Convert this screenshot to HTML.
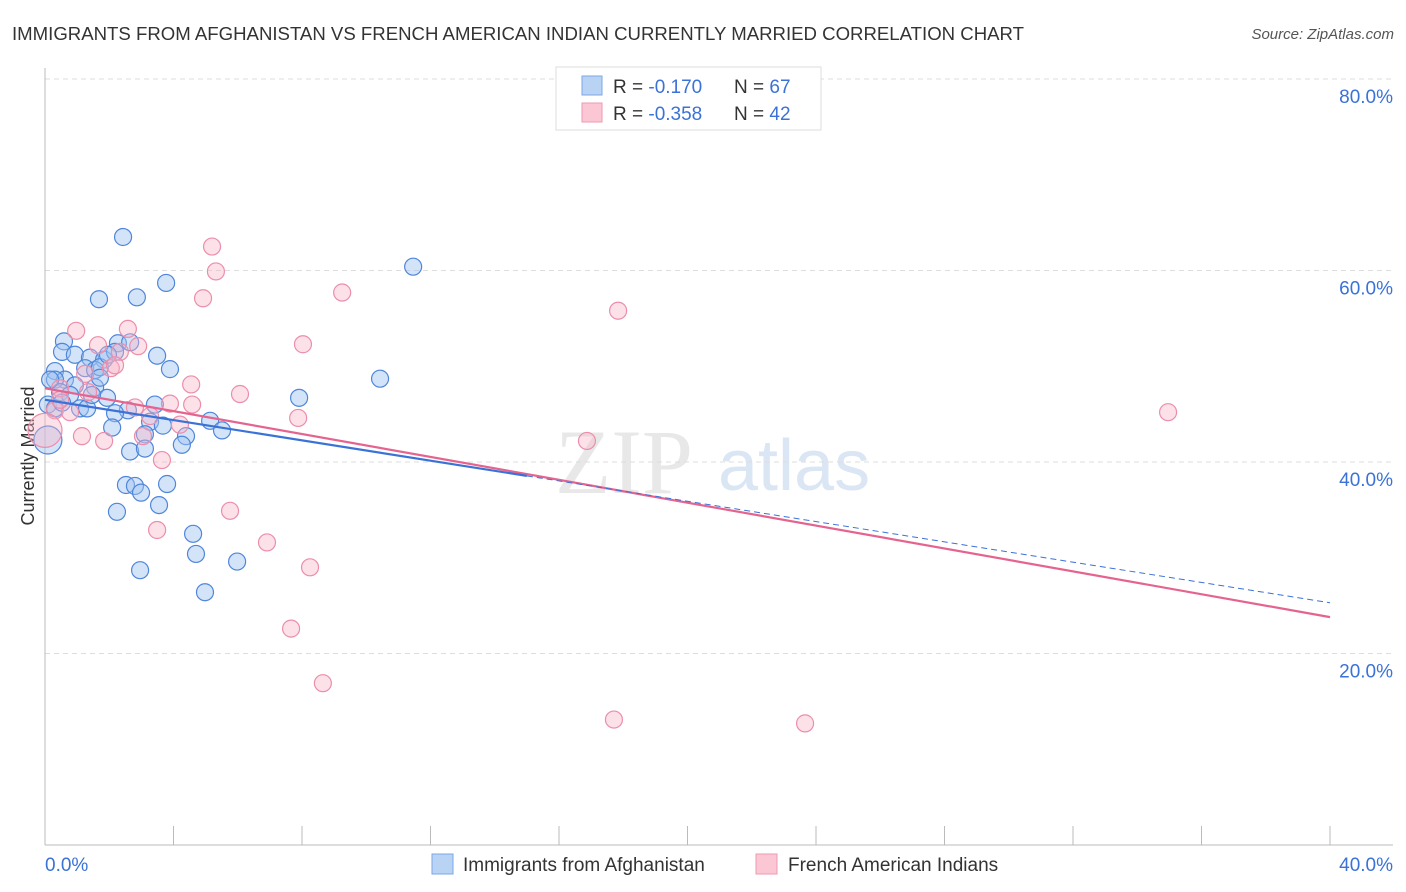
<!DOCTYPE html>
<html><head><meta charset="utf-8">
<style>
body{margin:0;background:#fff;font-family:"Liberation Sans",sans-serif;}
svg{display:block}
</style></head>
<body>
<svg id="chart" width="1406" height="892" xmlns="http://www.w3.org/2000/svg">
<text x="12" y="40" font-size="18.6" fill="#333" textLength="1012" lengthAdjust="spacingAndGlyphs">IMMIGRANTS FROM AFGHANISTAN VS FRENCH AMERICAN INDIAN CURRENTLY MARRIED CORRELATION CHART</text>
<text x="1394" y="39" font-size="15" fill="#555" font-style="italic" text-anchor="end">Source: ZipAtlas.com</text>
<text x="34" y="456" font-size="18" fill="#333" text-anchor="middle" transform="rotate(-90 34 456)">Currently Married</text>
<g>
<text x="555" y="493" font-size="92" fill="#e8e8e8" font-family="Liberation Serif,serif">ZIP</text>
<text x="718" y="490" font-size="72" fill="#dbe6f4">atlas</text>
</g>
<g id="grid"></g>
<g id="axes"></g>
<g id="pts"></g>
<g id="lines"></g>
<g>
<rect x="556" y="67" width="265" height="63" fill="#fff" stroke="#ddd"/>
<rect x="582" y="76" width="20" height="19" fill="#b9d3f5" stroke="#7aa7e6"/>
<rect x="582" y="103" width="20" height="19" fill="#fcc7d5" stroke="#ee9ab2"/>
<text x="613" y="93" font-size="19" fill="#333">R = <tspan fill="#3a72d8"> -0.170</tspan></text>
<text x="734" y="93" font-size="19" fill="#333">N = <tspan fill="#3a72d8">67</tspan></text>
<text x="613" y="120" font-size="19" fill="#333">R = <tspan fill="#3a72d8">-0.358</tspan></text>
<text x="734" y="120" font-size="19" fill="#333">N = <tspan fill="#3a72d8">42</tspan></text>
</g>
<g>
<rect x="432" y="854" width="21" height="20" fill="#b9d3f5" stroke="#7aa7e6"/>
<text x="463" y="871" font-size="19" fill="#333">Immigrants from Afghanistan</text>
<rect x="756" y="854" width="21" height="20" fill="#fcc7d5" stroke="#ee9ab2"/>
<text x="788" y="871" font-size="19" fill="#333">French American Indians</text>
</g>
</svg>
<script>
const xTicks=[0,40];
const yTicks=[20,40,60,80];
const blueX=[2.43,11.46,3.77,1.68,2.86,0.59,0.53,0.93,3.49,1.40,1.84,2.27,3.89,0.31,1.25,1.56,1.71,0.62,0.93,0.31,0.47,0.78,1.56,10.43,7.91,1.93,2.58,0.09,0.31,1.09,1.31,2.18,3.42,5.14,5.51,3.27,3.67,2.09,4.39,3.11,4.26,2.65,3.11,2.52,2.80,2.99,3.80,3.55,2.24,4.61,4.70,5.98,2.96,4.98,0.16,0.09,2.65,2.18,1.46,0.53,1.71,1.96];
const blueY=[63.5,60.4,58.7,57.0,57.2,52.6,51.5,51.2,51.1,50.9,50.7,52.4,49.7,49.5,49.8,49.6,49.9,48.6,48.0,48.6,47.3,47.0,47.8,48.7,46.7,46.7,45.4,46.0,45.6,45.6,45.6,45.1,46.0,44.3,43.3,44.2,43.8,43.6,42.7,42.9,41.8,41.1,41.4,37.6,37.5,36.8,37.7,35.5,34.8,32.5,30.4,29.6,28.7,26.4,48.6,42.3,52.5,51.5,47.0,46.2,48.8,51.2];
const pinkX=[5.20,5.32,4.92,9.25,17.84,0.97,2.58,8.03,2.90,1.65,2.33,2.05,1.25,4.55,6.07,0.47,0.31,0.78,2.80,3.89,4.58,7.88,3.27,4.20,3.05,1.15,1.84,16.87,34.96,3.64,5.76,3.49,6.91,8.25,7.66,8.65,17.71,23.66,0,0.47,1.34,2.18];
const pinkY=[62.5,59.9,57.1,57.7,55.8,53.7,53.9,52.3,52.1,52.2,51.5,49.8,49.2,48.1,47.1,47.7,45.4,45.2,45.7,46.1,46.0,44.6,44.8,43.9,42.7,42.7,42.2,42.2,45.2,40.2,34.9,32.9,31.6,29.0,22.6,16.9,13.1,12.7,43.3,46.5,47.3,50.1];
const blueTrend=[46.5,25.3];
const pinkTrend=[47.7,23.8];
const blueSolidEnd=15;

const NS="http://www.w3.org/2000/svg";
const X0=45,X1=1330,Y0=845,PY=191.5/20;
const sx=v=>X0+(v/40)*(X1-X0);
const sy=v=>Y0-v*PY;
function mk(tag,attrs,parent){const e=document.createElementNS(NS,tag);for(const k in attrs)e.setAttribute(k,attrs[k]);parent.appendChild(e);return e;}
const grid=document.getElementById('grid'),axes=document.getElementById('axes');
yTicks.forEach(t=>{
 const l=mk('line',{x1:45,x2:1393,y1:sy(t),y2:sy(t),stroke:'#ddd','stroke-dasharray':'5,4'},grid);
 
 
 const tx=mk('text',{x:1393,y:sy(t)+24,'font-size':19,fill:'#3a72d8','text-anchor':'end'},axes);
 tx.textContent=t.toFixed(1)+'%';
 
 
});
let a=mk('line',{x1:45,x2:45,y1:68,y2:845,stroke:'#bbb'},axes);


a=mk('line',{x1:45,x2:1393,y1:845,y2:845,stroke:'#bbb'},axes);


for(let i=1;i<=10;i++){
 const xx=sx(i*4);
 const t=mk('line',{x1:xx,x2:xx,y1:826,y2:845,stroke:'#bbb'},axes);
 
 
}
xTicks.forEach((t,i)=>{
 const tx=mk('text',{x:i==0?45:1393,y:871,'font-size':19,fill:'#3a72d8','text-anchor':i==0?'start':'end'},axes);
 tx.textContent=t.toFixed(1)+'%';
 
 
});
const pts=document.getElementById('pts');
blueX.forEach((v,i)=>{
 const big=v<0.2&&blueY[i]<43;
 const c=mk('circle',{cx:sx(v),cy:sy(blueY[i]),r:big?14:8.5,fill:'rgba(160,196,240,0.45)',stroke:'#4f86db','stroke-width':1.2},pts);
 
 
});
pinkX.forEach((v,i)=>{
 const big=v===0;
 const c=mk('circle',{cx:sx(v),cy:sy(pinkY[i]),r:big?17:8.5,fill:'rgba(248,180,200,0.4)',stroke:'#ec8eab','stroke-width':1.2},pts);
 
 
});
const lines=document.getElementById('lines');
const by=x=>blueTrend[0]+(blueTrend[1]-blueTrend[0])*x/40;
let l=mk('line',{x1:sx(0),y1:sy(pinkTrend[0]),x2:sx(40),y2:sy(pinkTrend[1]),stroke:'#e5648f','stroke-width':2.2},lines);


l=mk('line',{x1:sx(0),y1:sy(by(0)),x2:sx(blueSolidEnd),y2:sy(by(blueSolidEnd)),stroke:'#3a72d8','stroke-width':2.2},lines);


l=mk('line',{x1:sx(blueSolidEnd),y1:sy(by(blueSolidEnd)),x2:sx(40),y2:sy(by(40)),stroke:'#3a72d8','stroke-width':1,'stroke-dasharray':'6,4'},lines);


</script>
</body></html>
